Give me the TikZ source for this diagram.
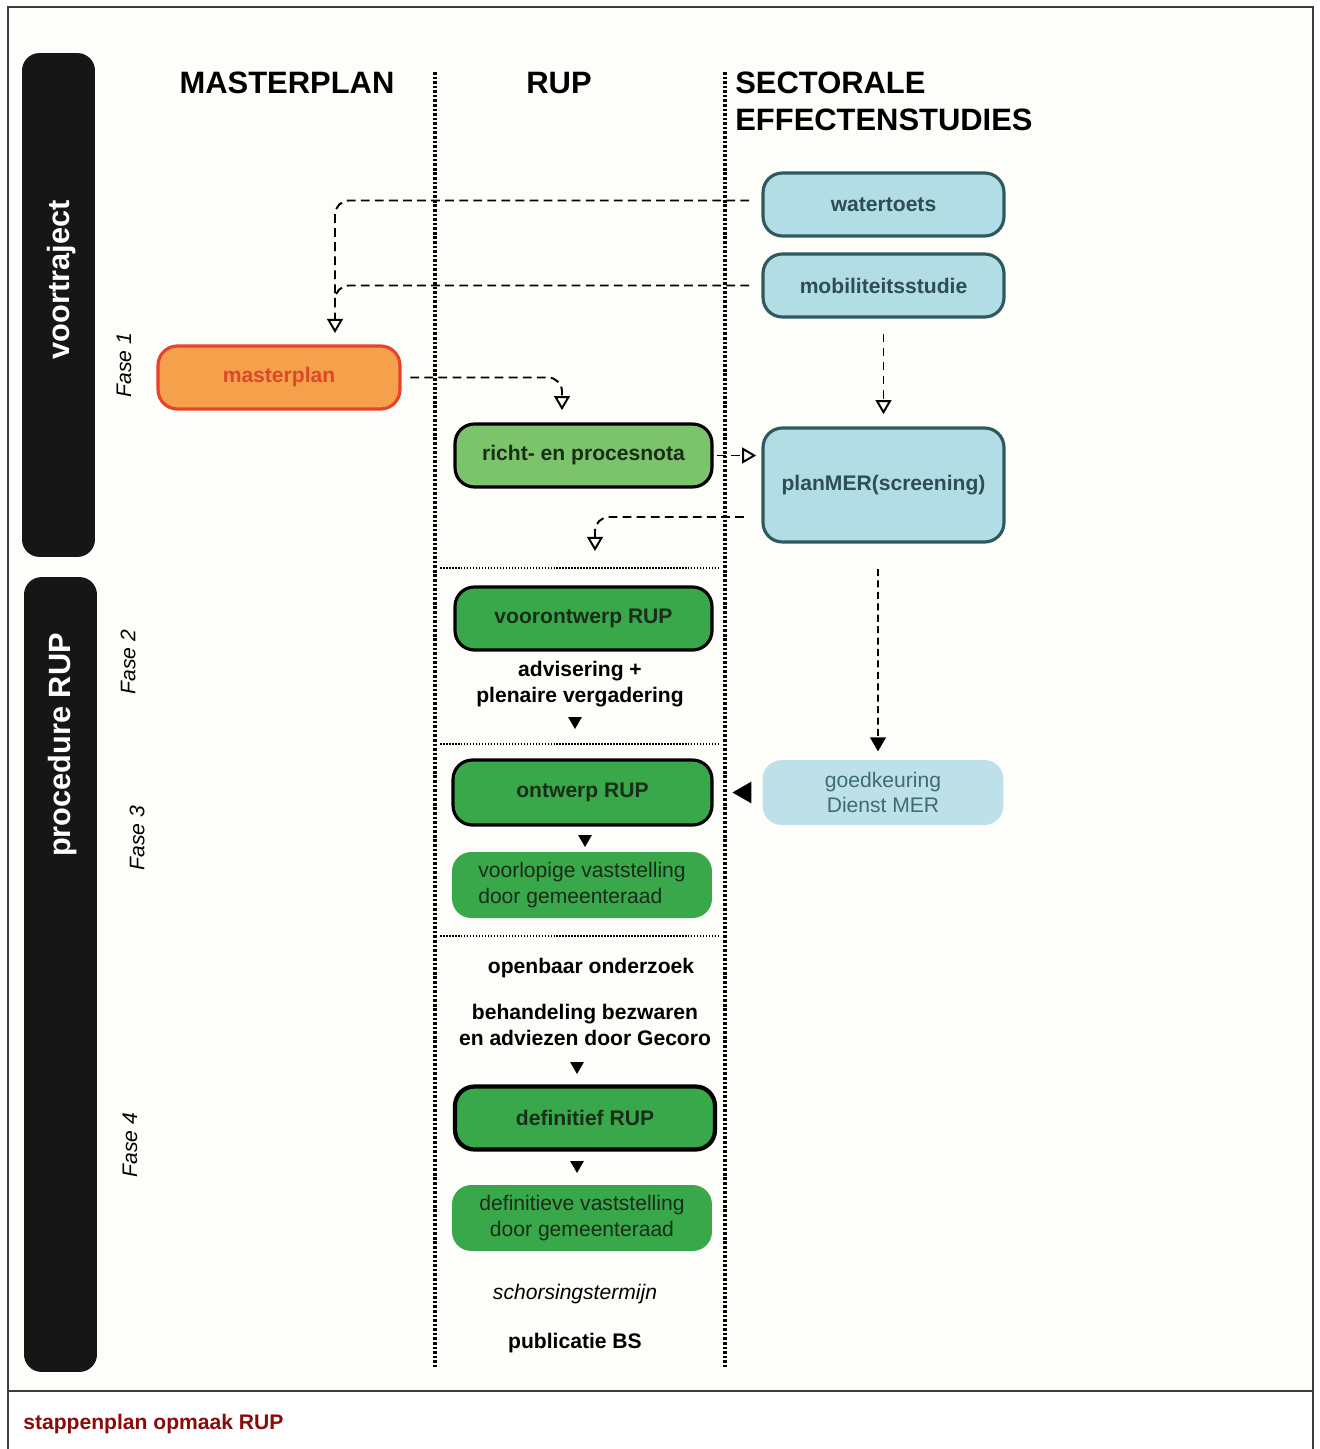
\documentclass[tikz,border=0pt]{standalone}
\usepackage{fontspec}
\setmainfont{Liberation Sans}
\usepackage{tikz}
\usetikzlibrary{arrows.meta, shapes.geometric}
\definecolor{balkzwart}{RGB}{22,22,22}
\definecolor{papier}{RGB}{253,253,249}
\definecolor{kader}{RGB}{60,60,60}
\definecolor{lblauw}{RGB}{178,221,229}
\definecolor{lblauwrand}{RGB}{46,90,95}
\definecolor{blauwtekst}{RGB}{45,78,84}
\definecolor{goedblauw}{RGB}{190,225,233}
\definecolor{goedtekst}{RGB}{62,108,116}
\definecolor{oranje}{RGB}{245,160,74}
\definecolor{oranjerand}{RGB}{229,67,44}
\definecolor{oranjetekst}{RGB}{222,72,42}
\definecolor{lgroen}{RGB}{124,196,108}
\definecolor{groen}{RGB}{57,168,74}
\definecolor{groentekst}{RGB}{25,45,25}
\definecolor{titelrood}{RGB}{139,10,10}
\tikzset{
  sectbox/.style={rectangle, draw=lblauwrand, fill=lblauw, text=blauwtekst,
    minimum width=4.82cm, minimum height=1.26cm, align=center,
    font=\fontsize{12}{14.5}\selectfont\bfseries, rounded corners=11pt, line width=1.8pt},
  rupbox/.style={rectangle, draw=black, fill=groen, text=groentekst,
    minimum width=5.14cm, minimum height=1.26cm, align=center,
    font=\fontsize{12}{14.5}\selectfont\bfseries, rounded corners=11pt, line width=1.8pt},
  besluitbox/.style={rectangle, fill=groen, text=groentekst,
    minimum width=5.2cm, minimum height=1.32cm, align=center,
    font=\fontsize{12}{14.5}\selectfont, rounded corners=11pt},
  stap/.style={align=center, font=\fontsize{12}{14.5}\selectfont\bfseries, inner sep=1pt},
  kolomkop/.style={font=\fontsize{17.6}{21}\selectfont\bfseries, align=left, inner sep=0pt},
  fase/.style={rotate=90, font=\fontsize{12}{14}\selectfont\itshape, inner sep=0pt},
  balktekst/.style={rotate=90, text=white, font=\fontsize{17.5}{20}\selectfont\bfseries, inner sep=0pt},
  balk/.style={rectangle, fill=balkzwart, rounded corners=10pt, minimum width=1.46cm, inner sep=0pt},
  kolomlijn/.style={line width=2.4pt, dash pattern=on 1.5pt off 1.1pt},
  faselijn/.style={line width=1pt, dash pattern=on 0.9pt off 0.8pt},
  dashpijl/.style={-{Triangle[open, width=9pt, length=8pt]}, line width=1.1pt,
    dash pattern=on 5pt off 3pt, rounded corners=8pt},
  dashvol/.style={-{Triangle[width=9pt, length=8pt]}, line width=1pt,
    dash pattern=on 4pt off 2.5pt},
  pijlkop/.style={regular polygon, regular polygon sides=3, fill=black, inner sep=0pt}
}

\begin{document}
\begin{tikzpicture}[x=0.02cm, y=-0.02cm]
\useasboundingbox (0,0) rectangle (1319,1449);
\fill[white] (0,0) rectangle (1319,1449);
\fill[papier] (8,7) rectangle (1313,1391);

% kader
\draw[kader, line width=0.8pt] (8,1449) -- (8,7) -- (1313,7) -- (1313,1449);
\draw[kader, line width=0.8pt] (8,1391) -- (1313,1391);
\node[font=\fontsize{12}{14}\selectfont\bfseries, text=titelrood, anchor=west, inner sep=0pt] (titel) at (23,1424) {stappenplan opmaak RUP};

% balken links
\node[balk, minimum height=10.08cm] (vtbalk) at (58.5,305) {};
\node[balk, minimum height=15.9cm] (prbalk) at (60.5,974.5) {};
\node[balktekst] (vtlabel) at (62,280) {voortraject};
\node[balktekst] (prlabel) at (63,745) {procedure RUP};
\node[fase] (f1) at (124,365) {Fase 1};
\node[fase] (f2) at (128,662) {Fase 2};
\node[fase] (f3) at (137,838) {Fase 3};
\node[fase] (f4) at (130,1145) {Fase 4};

% kolommen
\node[kolomkop] (kmaster) at (287,83) {MASTERPLAN};
\node[kolomkop] (krup) at (559,83) {RUP};
\node[kolomkop, anchor=west] (ksect) at (735,101.5) {SECTORALE\\EFFECTENSTUDIES};
\draw[kolomlijn] (435,72) -- (435,1368);
\draw[kolomlijn] (725,72) -- (725,1368);
\draw[faselijn] (440,568) -- (720,568);
\draw[faselijn] (440,744) -- (720,744);
\draw[faselijn] (440,936) -- (720,936);

% sectorale studies
\node[sectbox] (water) at (883.5,204.5) {watertoets};
\node[sectbox] (mob) at (883.5,285.5) {mobiliteitsstudie};
\node[sectbox, minimum height=2.28cm] (plan) at (883.5,485) {planMER(screening)};
\node[sectbox, draw=none, fill=goedblauw, text=goedtekst, font=\fontsize{12}{14.5}\selectfont,
  minimum height=1.3cm] (goed) at (883,792.5) {goedkeuring\\Dienst MER};

% masterplan
\node[sectbox, draw=oranjerand, fill=oranje, text=oranjetekst, minimum width=4.84cm] (master) at (279,377.5) {masterplan};

% RUP
\node[rupbox, fill=lgroen] (richt) at (583.5,455.5) {richt- en procesnota};
\node[rupbox] (voor) at (583.5,618.5) {voorontwerp RUP};
\node[stap] (advies) at (580,684) {advisering +\\plenaire vergadering};
\node[pijlkop, minimum size=0.32cm, shape border rotate=180] (k1) at (575,721) {};
\node[rupbox, minimum width=5.18cm, minimum height=1.3cm] (ontwerp) at (582.5,792.5) {ontwerp RUP};
\node[pijlkop, minimum size=0.32cm, shape border rotate=180] (k2) at (585,839) {};
\node[besluitbox, align=left] (voorlopig) at (582,885) {voorlopige vaststelling\\door gemeenteraad};
\node[stap] (onderzoek) at (591,968) {openbaar onderzoek};
\node[stap] (bezwaar) at (585,1025) {behandeling bezwaren\\en adviezen door Gecoro};
\node[pijlkop, minimum size=0.32cm, shape border rotate=180] (k3) at (577,1066) {};
\node[rupbox, minimum width=5.2cm, line width=2.4pt] (definitief) at (585,1118) {definitief RUP};
\node[pijlkop, minimum size=0.32cm, shape border rotate=180] (k4) at (577,1165) {};
\node[besluitbox] (defvast) at (582,1218) {definitieve vaststelling\\door gemeenteraad};
\node[stap, font=\fontsize{12}{14.5}\selectfont\itshape] (schorsing) at (575,1294) {schorsingstermijn};
\node[stap] (publicatie) at (575,1343) {publicatie BS};
\node[pijlkop, minimum size=0.5cm, shape border rotate=90] (k5) at (745,792.5) {};

% verbindingen
\coordinate (mpkop) at (335,333);
\coordinate (mpjoin) at (335,298);
\coordinate (vkop) at (595,551);
\draw[dashpijl, shorten <=7pt] ([yshift=0.08cm]water.west) -| (mpkop);
\draw[dashpijl, -, shorten <=7pt] (mob.west) -| (mpjoin);
\draw[dashpijl, shorten <=5pt, shorten >=7pt] (master.east) -| ([xshift=-0.43cm]richt.north);
\draw[dashpijl, shorten <=8.5pt, shorten >=7pt] (mob.south) -- (plan.north);
\draw[dashpijl, shorten <=2pt, shorten >=3pt] (richt.east) -- (richt.east -| plan.west);
\draw[dashpijl, shorten <=10pt] ([yshift=-0.64cm]plan.west) -| (vkop);
\draw[dashvol, shorten <=14.5pt, shorten >=4pt] ([xshift=-0.11cm]plan.south) -- ([xshift=-0.1cm]goed.north);
\end{tikzpicture}
\end{document}
